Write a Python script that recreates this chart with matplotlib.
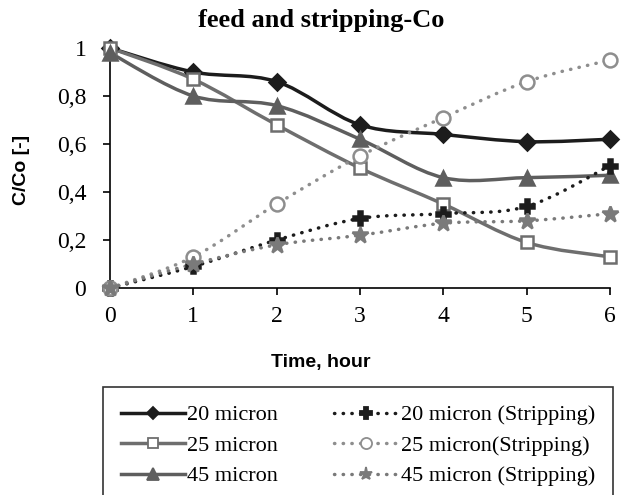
import numpy as np
import matplotlib
matplotlib.use("Agg")
import matplotlib.pyplot as plt
from matplotlib.path import Path
from matplotlib.patches import PathPatch
from matplotlib.lines import Line2D

time = [0, 1, 2, 3, 4, 5, 6]
feed20 = [1.00, 0.90, 0.86, 0.68, 0.64, 0.61, 0.62]
feed25 = [1.00, 0.87, 0.68, 0.50, 0.35, 0.19, 0.13]
feed45 = [0.98, 0.80, 0.76, 0.62, 0.46, 0.46, 0.47]
strip20 = [0.00, 0.09, 0.20, 0.29, 0.31, 0.34, 0.51]
strip25 = [0.00, 0.13, 0.35, 0.55, 0.71, 0.86, 0.95]
strip45 = [0.00, 0.10, 0.18, 0.22, 0.27, 0.28, 0.31]
labels = ["20 micron", "25 micron", "45 micron",
          "20 micron (Stripping)", "25 micron(Stripping)", "45 micron (Stripping)"]


def smooth_path(x, y):
    # excel-like smoothed line: catmull-rom as cubic bezier segments
    x = np.asarray(x, float); y = np.asarray(y, float)
    verts = [(x[0], y[0])]
    codes = [Path.MOVETO]
    n = len(x)
    for i in range(n - 1):
        p0 = (x[max(i - 1, 0)], y[max(i - 1, 0)])
        p1 = (x[i], y[i])
        p2 = (x[i + 1], y[i + 1])
        p3 = (x[min(i + 2, n - 1)], y[min(i + 2, n - 1)])
        c1 = (p1[0] + (p2[0] - p0[0]) / 6, p1[1] + (p2[1] - p0[1]) / 6)
        c2 = (p2[0] - (p3[0] - p1[0]) / 6, p2[1] - (p3[1] - p1[1]) / 6)
        verts += [c1, c2, p2]
        codes += [Path.CURVE4] * 3
    return Path(verts, codes)


fig = plt.figure(figsize=(6.22, 4.95), dpi=100)
ax = fig.add_axes([0.1768, 0.418, 0.804, 0.485])

dots = (0, (0.1, 2.4))
series = [
    (feed20, "#1c1c1c", "-", "D", "#1c1c1c", 8),
    (feed25, "#6e6e6e", "-", "s", "white", 9),
    (feed45, "#5e5e5e", "-", "^", "#5e5e5e", 10),
    (strip20, "#1c1c1c", dots, "P", "#1c1c1c", 10),
    (strip25, "#8e8e8e", dots, "o", "white", 10),
    (strip45, "#7a7a7a", dots, "*", "#7a7a7a", 12),
]

handles = []
for (vals, col, ls, mk, fc, ms), lab in zip(series, labels):
    patch = PathPatch(smooth_path(time, vals), facecolor="none", edgecolor=col,
                      lw=2.5, linestyle=ls, capstyle="round", zorder=2)
    ax.add_patch(patch)
    ax.plot(time, vals, ls="none", marker=mk, ms=ms, mfc=fc, mec=col,
            mew=1.8, zorder=3, clip_on=False)
    handles.append(Line2D([], [], color=col, lw=2.5, ls=ls, marker=mk,
                          ms=ms * 0.8, mfc=fc, mec=col, mew=1.3,
                          dash_capstyle="round"))

ax.set_xlim(0, 6)
ax.set_ylim(0, 1)
ax.set_xticks(time)
ax.set_yticks([0, 0.2, 0.4, 0.6, 0.8, 1])
ax.set_yticklabels(["0", "0,2", "0,4", "0,6", "0,8", "1"])
ax.spines["top"].set_visible(False)
ax.spines["right"].set_visible(False)
ax.spines["left"].set_linewidth(1.2)
ax.spines["bottom"].set_linewidth(1.2)
ax.tick_params(direction="out", length=5, width=1.2, labelsize=17)
ax.tick_params(axis="x", pad=8)
ax.tick_params(axis="y", pad=12)
for t in ax.get_xticklabels() + ax.get_yticklabels():
    t.set_fontfamily("Liberation Serif")

fig.text(321 / 622, 1 - 21 / 495, "feed and stripping-Co", ha="center", va="center",
         fontfamily="Liberation Serif", fontweight="bold", fontsize=19)
fig.text(321 / 622, 1 - 362 / 495, "Time, hour", ha="center", va="center",
         fontfamily="Liberation Sans", fontweight="bold", fontsize=14)
fig.text(21 / 622, 1 - 170 / 495, "C/Co [-]", ha="center", va="center", rotation=90,
         fontfamily="Liberation Sans", fontweight="bold", fontsize=14)

leg = fig.legend(handles=handles, labels=labels, ncol=2, loc="upper left",
                 bbox_to_anchor=(103 / 622, 1 - 387 / 495), frameon=True, fancybox=False,
                 prop={"family": "Liberation Serif", "size": 16},
                 handlelength=2.9, columnspacing=2.5, labelspacing=0.45,
                 borderpad=0.8, handletextpad=0.1, borderaxespad=0)
leg.get_frame().set_edgecolor("black")
leg.get_frame().set_linewidth(1.2)

fig.savefig("out.png", dpi=100)
